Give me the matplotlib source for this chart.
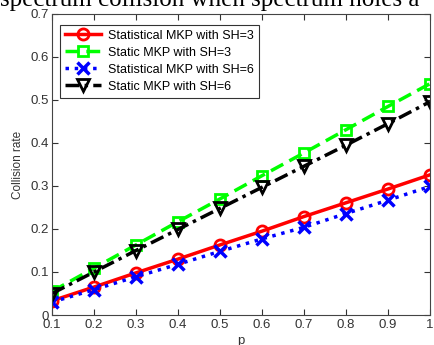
import matplotlib.pyplot as plt

p = [0.1, 0.2, 0.3, 0.4, 0.5, 0.6, 0.7, 0.8, 0.9, 1.0]
stat_sh3 = [0.033, 0.065, 0.098, 0.130, 0.163, 0.195, 0.229, 0.261, 0.293, 0.326]
static_sh3 = [0.055, 0.109, 0.163, 0.217, 0.270, 0.324, 0.377, 0.431, 0.485, 0.538]
stat_sh6 = [0.030, 0.059, 0.089, 0.118, 0.148, 0.177, 0.204, 0.236, 0.267, 0.299]
static_sh6 = [0.050, 0.100, 0.150, 0.199, 0.248, 0.297, 0.346, 0.395, 0.445, 0.496]
labels = ['Statistical MKP with SH=3', 'Static MKP with SH=3',
          'Statistical MKP with SH=6', 'Static MKP with SH=6']

plt.rcParams['font.family'] = ['Liberation Sans', 'DejaVu Sans']

fig = plt.figure(figsize=(4.34, 3.45), dpi=100)
ax = fig.add_axes([52 / 434, 1 - 315 / 345, 378 / 434, 301 / 345])

ax.plot(p, stat_sh3, '-', color='red', lw=2.5, marker='o', ms=8, mfc='none', mew=2, label=labels[0])
ax.plot(p, static_sh3, '--', color='#00ff00', lw=2.5, marker='s', ms=7, mfc='none', mew=2,
        dashes=(4, 2), label=labels[1])
ax.plot(p, stat_sh6, ':', color='blue', lw=2.5, marker='x', ms=9, mew=2.5, label=labels[2])
ax.plot(p, static_sh6, '-.', color='black', lw=2.5, marker='v', ms=8, mfc='none', mew=2,
        dashes=(4, 1.5, 1, 1.5), label=labels[3])

ax.set_xlim(0.1, 1.0)
ax.set_ylim(0, 0.7)
ax.set_xticks(p)
ax.set_xticklabels(['0.1', '0.2', '0.3', '0.4', '0.5', '0.6', '0.7', '0.8', '0.9', '1'])
ax.set_yticks([0, 0.1, 0.2, 0.3, 0.4, 0.5, 0.6, 0.7])
ax.set_yticklabels(['0', '0.1', '0.2', '0.3', '0.4', '0.5', '0.6', '0.7'])
ax.tick_params(direction='in', top=True, right=True, labelsize=9.5, colors='#333333', length=4)
ax.tick_params(axis='x', pad=3)
ax.tick_params(axis='y', pad=2)
for s in ax.spines.values():
    s.set_color('#444444')
    s.set_linewidth(0.8)
ax.set_ylabel('Collision rate', fontsize=8.5, color='#333333', labelpad=5)
ax.set_xlabel('p', fontsize=9.5, color='#333333', labelpad=3)

leg = ax.legend(loc='upper left', fontsize=9, handlelength=2.9, borderpad=0.4,
                labelspacing=0.4, handletextpad=0.5, fancybox=False,
                bbox_to_anchor=(0.005, 0.985))
leg.get_frame().set_edgecolor('black')
leg.get_frame().set_linewidth(0.8)

fig.text(0.0, 1 - 6 / 345, 'spectrum collision when spectrum holes a', family='Liberation Serif',
         fontsize=18, va='baseline', ha='left')

fig.savefig('out.png', dpi=100)
